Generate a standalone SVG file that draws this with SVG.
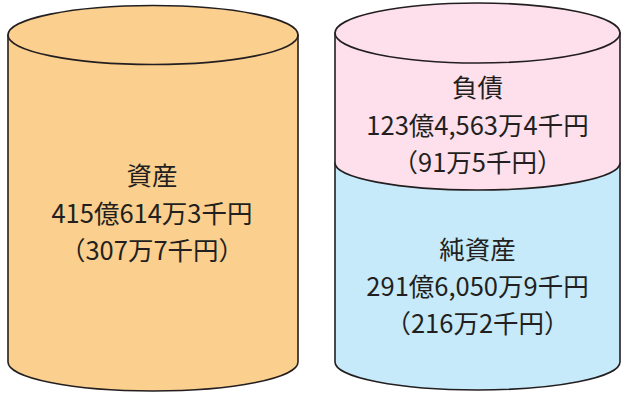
<svg xmlns="http://www.w3.org/2000/svg" width="621" height="393" viewBox="0 0 621 393">
<style>
.o{stroke:#231f20;stroke-width:1.6;}
.t{font-family:"Noto Sans CJK JP","Noto Sans",sans-serif;font-size:25.5px;fill:#231f20;text-anchor:middle;}
</style>
<rect width="621" height="393" fill="#ffffff"/>
<g id="assets">
<path class="o" d="M8,35 L8,362 A145,29 0 0 0 298,362 L298,35 Z" fill="#fbcf8e"/>
<ellipse class="o" cx="153" cy="35" rx="145" ry="29.5" fill="#fbcf8e"/>
<text class="t" x="152" y="185">資産</text>
<text class="t" x="152" y="223">415億614万3千円</text>
<text class="t" x="152" y="260">（307万7千円）</text>
</g>
<g id="net-assets">
<path class="o" d="M335,163 L335,362 A142.5,28 0 0 0 620,362 L620,163 Z" fill="#c6eaf9"/>
<text class="t" x="477.5" y="259">純資産</text>
<text class="t" x="477.5" y="296">291億6,050万9千円</text>
<text class="t" x="477.5" y="333">（216万2千円）</text>
</g>
<g id="liabilities">
<path class="o" d="M335,33 L335,163 A142.5,27 0 0 0 620,163 L620,33 Z" fill="#fde0ec"/>
<ellipse class="o" cx="477.5" cy="33" rx="142.5" ry="30" fill="#fde0ec"/>
<text class="t" x="477.5" y="97">負債</text>
<text class="t" x="477.5" y="135">123億4,563万4千円</text>
<text class="t" x="477.5" y="172">（91万5千円）</text>
</g>
<g id="connectors"></g>
</svg>
